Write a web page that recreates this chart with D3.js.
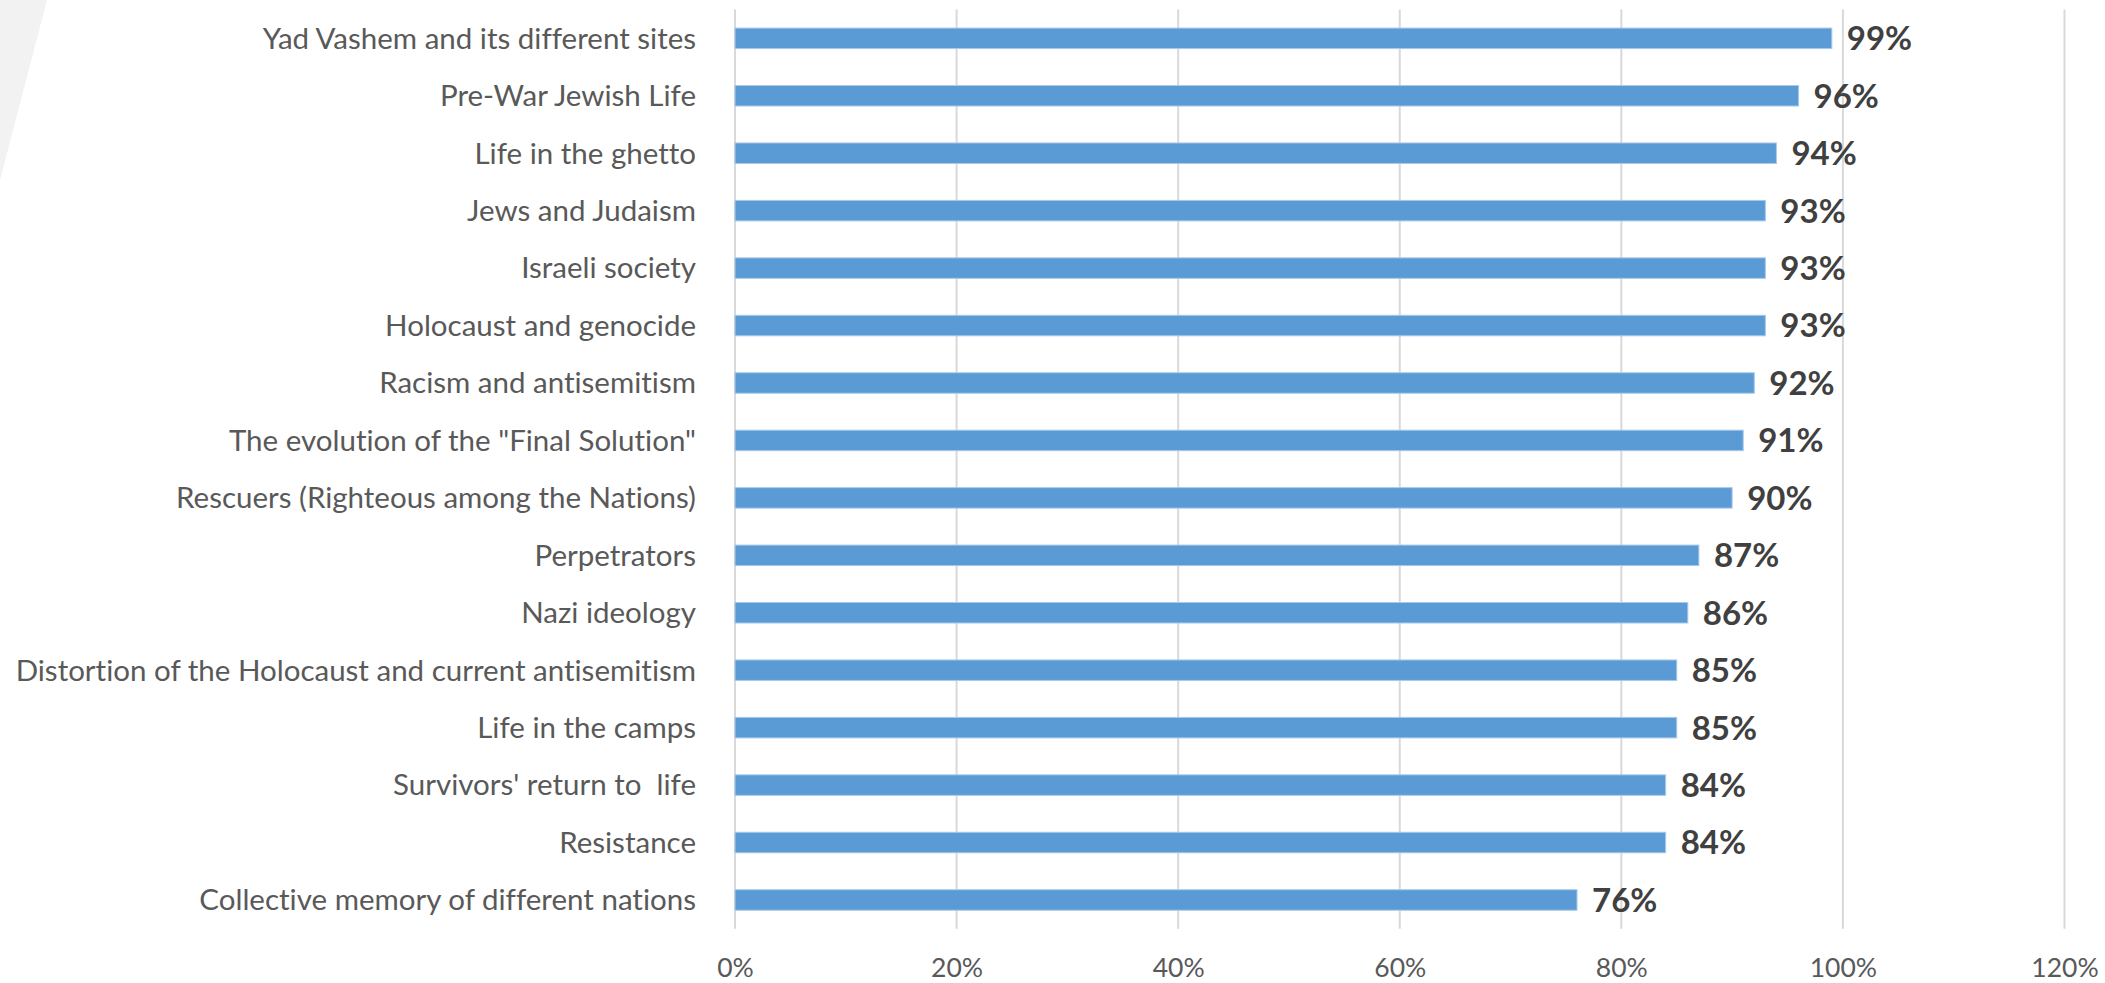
<!DOCTYPE html>
<html>
<head>
<meta charset="utf-8">
<script src="https://cdn.jsdelivr.net/npm/d3@7"></script>
<style>
  html, body { margin: 0; padding: 0; background: #ffffff; }
  svg { display: block; }
  text { font-variant-ligatures: none; white-space: pre; }
</style>
</head>
<body>
<svg id="chart" width="2105" height="983"></svg>
<script>
// Topics, top to bottom, with the share of respondents for each
const categories = [
  "Yad Vashem and its different sites",
  "Pre-War Jewish Life",
  "Life in the ghetto",
  "Jews and Judaism",
  "Israeli society",
  "Holocaust and genocide",
  "Racism and antisemitism",
  "The evolution of the \"Final Solution\"",
  "Rescuers (Righteous among the Nations)",
  "Perpetrators",
  "Nazi ideology",
  "Distortion of the Holocaust and current antisemitism",
  "Life in the camps",
  "Survivors' return to  life",
  "Resistance",
  "Collective memory of different nations"
];
const values = [0.99, 0.96, 0.94, 0.93, 0.93, 0.93, 0.92, 0.91, 0.90, 0.87, 0.86, 0.85, 0.85, 0.84, 0.84, 0.76];
const tickValues = [0, 0.2, 0.4, 0.6, 0.8, 1.0, 1.2];

const svg = d3.select("#chart");
const plot = { left: 735, right: 2064.5, top: 9.6, bottom: 928.7 };

// Decorative slanted panel in the top-left corner
svg.append("polygon")
  .attr("points", "0,0 47,0 0,180")
  .attr("fill", "#f2f2f2");

const x = d3.scaleLinear().domain([0, 1.2]).range([plot.left, plot.right]);
const y = d3.scaleBand()
  .domain(categories)
  .range([plot.top, plot.bottom])
  .paddingInner(0.643)
  .paddingOuter(0.643 / 2);

const fmt = d3.format(".0%");
const labelFont = "Lato, 'Open Sans', 'DejaVu Sans', sans-serif";

// Vertical gridlines
svg.append("g")
  .selectAll("line")
  .data(tickValues)
  .join("line")
  .attr("x1", d => x(d)).attr("x2", d => x(d))
  .attr("y1", plot.top).attr("y2", plot.bottom)
  .attr("stroke", "#d9d9d9")
  .attr("stroke-width", 2);

// Bottom axis: labels only
const xAxis = d3.axisBottom(x).tickValues(tickValues).tickFormat(fmt).tickSize(0).tickPadding(0);
const gx = svg.append("g")
  .attr("transform", `translate(0,${plot.bottom})`)
  .call(xAxis);
gx.select(".domain").remove();
gx.selectAll("text")
  .attr("dy", null)
  .attr("y", 48)
  .attr("fill", "#595959")
  .style("font-family", labelFont)
  .style("font-size", "26.5px");

// Left axis: category names
const yAxis = d3.axisLeft(y).tickSize(0).tickPadding(0);
const gy = svg.append("g")
  .attr("transform", `translate(${plot.left - 39},0)`)
  .call(yAxis);
gy.select(".domain").remove();
gy.selectAll("text")
  .attr("dy", "0.35em")
  .attr("xml:space", "preserve")
  .attr("fill", "#595959")
  .style("font-family", labelFont)
  .style("font-size", "29.5px");

// Bars
svg.append("g")
  .selectAll("rect")
  .data(categories)
  .join("rect")
  .attr("x", x(0))
  .attr("y", d => y(d))
  .attr("width", (d, i) => x(values[i]) - x(0))
  .attr("height", y.bandwidth())
  .attr("fill", "#5b9bd5")
  .attr("stroke", "#a9c9ea")
  .attr("stroke-width", 1);

// Value labels at the end of each bar
svg.append("g")
  .selectAll("text")
  .data(categories)
  .join("text")
  .attr("x", (d, i) => x(values[i]) + 15)
  .attr("y", d => y(d) + y.bandwidth() / 2)
  .attr("dy", "0.36em")
  .attr("fill", "#404040")
  .style("font-family", labelFont)
  .style("font-weight", "bold")
  .style("font-size", "33px")
  .text((d, i) => fmt(values[i]));
</script>
</body>
</html>
